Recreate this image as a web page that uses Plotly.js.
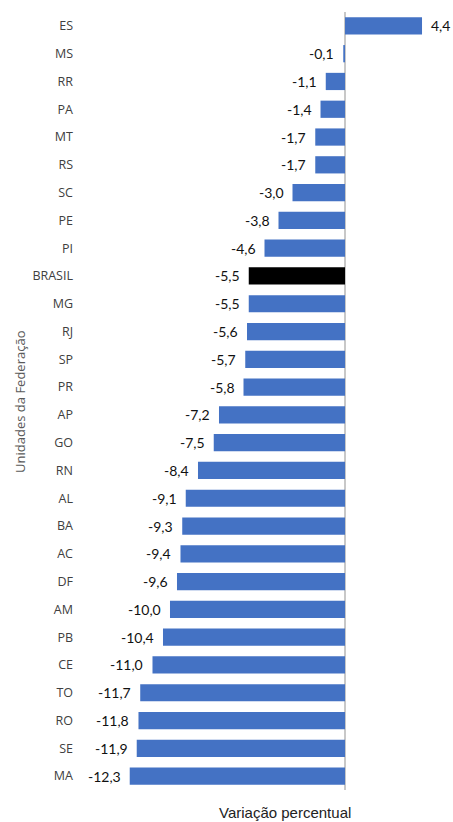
<!DOCTYPE html>
<html>
<head>
<meta charset="utf-8">
<script src="https://cdn.plot.ly/plotly-3.0.1.min.js"></script>
<style>html,body{margin:0;padding:0;background:#fff;}#chart{width:453px;height:822px;}</style>
</head>
<body>
<div id="chart"></div>
<script>
const categories = ["ES","MS","RR","PA","MT","RS","SC","PE","PI","BRASIL","MG","RJ","SP","PR","AP","GO","RN","AL","BA","AC","DF","AM","PB","CE","TO","RO","SE","MA"];
const values = [4.4,-0.1,-1.1,-1.4,-1.7,-1.7,-3.0,-3.8,-4.6,-5.5,-5.5,-5.6,-5.7,-5.8,-7.2,-7.5,-8.4,-9.1,-9.3,-9.4,-9.6,-10.0,-10.4,-11.0,-11.7,-11.8,-11.9,-12.3];
const highlight = "BRASIL";

const fmt = v => v.toFixed(1).replace('.', ',');
const colors = categories.map(c => c === highlight ? '#000000' : '#4472C4');

const trace = {
  type: 'bar',
  orientation: 'h',
  x: values,
  y: categories,
  marker: {color: colors},
  hoverinfo: 'none'
};

const annotations = values.map((v, i) => ({
  x: v, y: categories[i], xref: 'x', yref: 'y',
  text: fmt(v), showarrow: false,
  xanchor: v >= 0 ? 'left' : 'right',
  xshift: v >= 0 ? 7 : -7,
  font: {family: 'Lato, "Open Sans", sans-serif', size: 14, color: '#111'}
}));
annotations.push({
  xref: 'paper', yref: 'paper', x: -0.178, y: 0.5,
  text: 'Unidades da Federação', textangle: -90, showarrow: false,
  font: {family: '"Open Sans", sans-serif', size: 13, color: '#595959'}
});
annotations.push({
  xref: 'paper', yref: 'paper', x: 0.554, y: -0.029, yanchor: 'middle',
  text: 'Variação percentual', showarrow: false,
  font: {family: '"Liberation Sans", Arial, sans-serif', size: 15, color: '#222'}
});

const layout = {
  width: 453, height: 822,
  margin: {l: 76, r: 0, t: 12, b: 32},
  paper_bgcolor: '#fff', plot_bgcolor: '#fff',
  bargap: 0.38,
  showlegend: false,
  xaxis: {
    range: [-15.37, 6.17], showgrid: false, showticklabels: false, ticks: '',
    zeroline: true, zerolinecolor: '#c8c8c8', zerolinewidth: 1.5, showline: false
  },
  yaxis: {
    type: 'category', autorange: 'reversed', showgrid: false, zeroline: false,
    ticks: '', ticklabelstandoff: 2,
    tickfont: {family: '"Open Sans", sans-serif', size: 12.5, color: '#404040'}
  },
  annotations: annotations
};

Plotly.newPlot('chart', [trace], layout, {displayModeBar: false, staticPlot: true});
</script>
</body>
</html>
